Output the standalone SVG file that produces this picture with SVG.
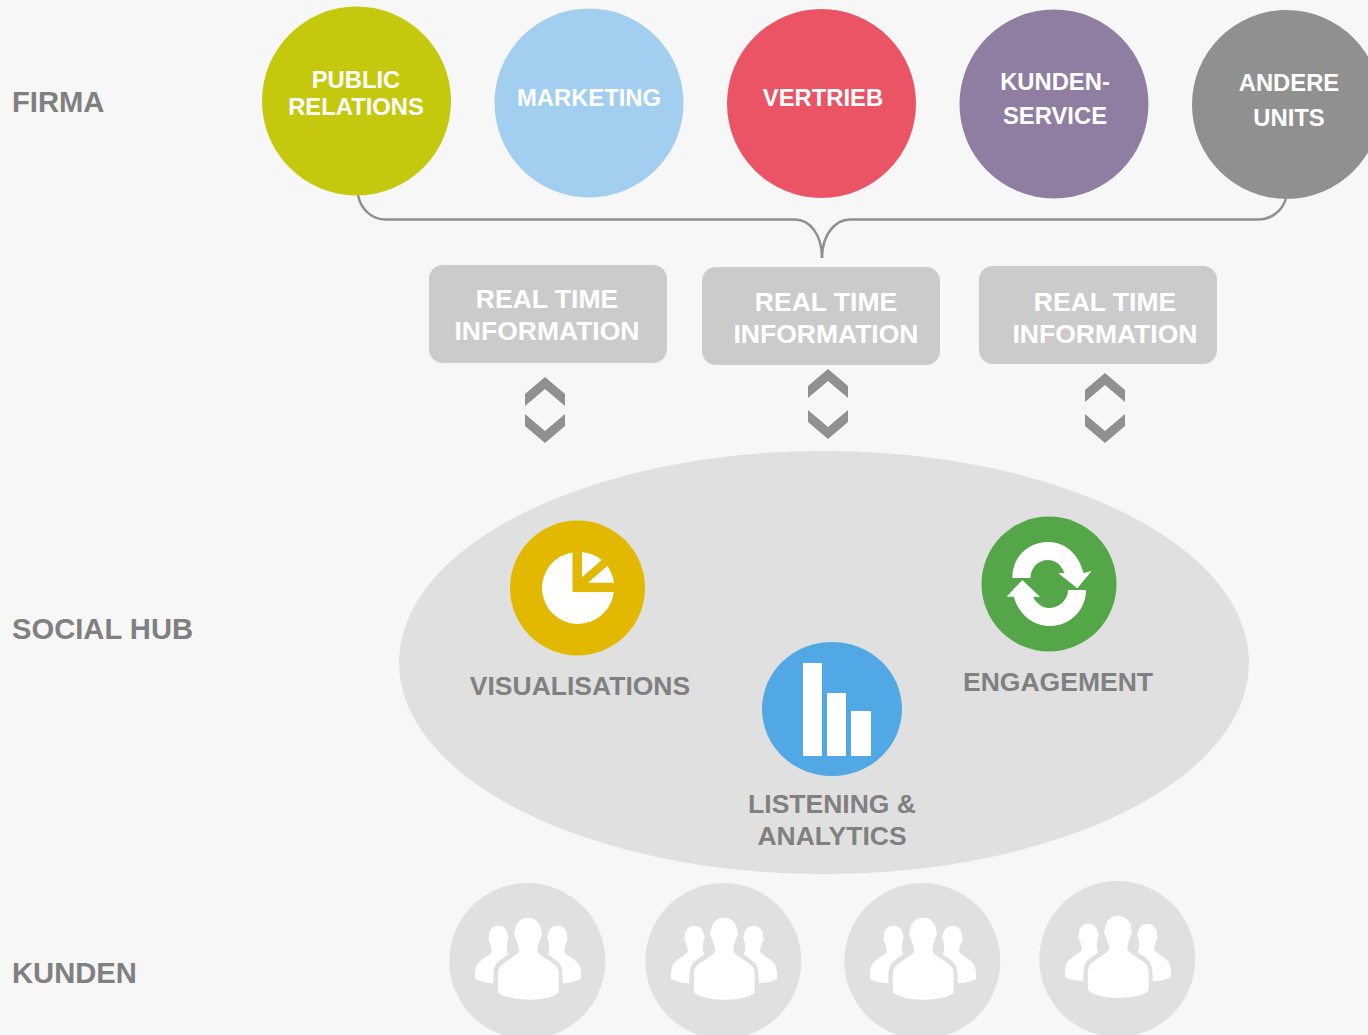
<svg xmlns="http://www.w3.org/2000/svg" xmlns:xlink="http://www.w3.org/1999/xlink" width="1368" height="1035" viewBox="0 0 1368 1035">
<style>
text{font-family:"Liberation Sans",Arial,sans-serif;font-weight:700;text-anchor:middle}
.w{fill:#fff}.g{fill:#808080}
.head{font-size:29.200px;text-anchor:start}
.c{font-size:23.800px}
.info{font-size:26.500px}
.hub{font-size:26.500px}
.box{fill:#cbcbcb}
.chev{fill:#909090}
.ic{fill:#fff}
.cust{fill:#e0e0e0}
</style>
<defs>
<g id="people">
<path id="side" d="M175 152C158 152 146 165 147 185C143 192 147 200 150 205C153 215 157 225 155 232C145 245 115 255 108 275C105 285 105 300 105 312C120 320 140 324 160 325C160 295 160 280 170 265C180 255 195 245 205 238C198 225 200 210 203 197C207 190 206 180 203 178C203 165 192 152 175 152Z"/>
<use xlink:href="#side" href="#side" transform="matrix(-1 0 0 1 528 0)"/>
<path d="M264 128C240 128 226 146 225 168C220 175 224 185 228 192C232 205 238 218 238 228C232 242 200 255 180 275C172 285 174 300 174 350C176 358 210 374 265 374C320 374 354 360 356 350C356 300 358 285 350 275C330 255 296 242 292 228C292 218 296 205 300 192C304 185 308 175 304 168C303 146 288 128 264 128Z"/>
</g>
<g id="chevs">
<polygon points="0,0 20,17 20,29 0,12 -20,29 -20,17"/>
</g>
<g id="chevd">
<polygon points="-20,0 0,17 20,0 20,12 0,29 -20,12"/>
</g>
</defs>
<rect width="1368" height="1035" fill="#f7f7f7"/>
<text class="g head" x="12" y="112">FIRMA</text>
<text class="g head" x="12" y="639">SOCIAL HUB</text>
<text class="g head" x="12" y="983">KUNDEN</text>

<g id="connectors" fill="none" stroke="#909090" stroke-width="2.5">
<path d="M358 195C361 210 372 219.500 386 219.500H795C810 219.500 822 235 822 258"/>
<path d="M1286 198C1283 210 1272 219.500 1258 219.500H850C835 219.500 822 235 822 258"/>
</g>

<g id="public-relations"><circle cx="356.500" cy="101" r="94.500" fill="#c4c90e"/><text class="w c" x="356" y="88">PUBLIC</text><text class="w c" x="356" y="115">RELATIONS</text></g>
<g id="marketing"><circle cx="589" cy="103" r="94.500" fill="#a2cff0"/><text class="w c" x="589" y="106">MARKETING</text></g>
<g id="vertrieb"><circle cx="821.500" cy="103.500" r="94.500" fill="#ea5464"/><text class="w c" x="823" y="106">VERTRIEB</text></g>
<g id="kundenservice"><circle cx="1054" cy="104" r="94.500" fill="#8f7da2"/><text class="w c" x="1055" y="90">KUNDEN-</text><text class="w c" x="1055" y="124">SERVICE</text></g>
<g id="andere-units"><circle cx="1286.500" cy="104.500" r="94.500" fill="#909090"/><text class="w c" x="1289" y="91">ANDERE</text><text class="w c" x="1289" y="126">UNITS</text></g>

<g id="info-1"><rect class="box" x="429" y="265" width="238" height="98" rx="14"/><text class="w info" x="547" y="308">REAL TIME</text><text class="w info" x="547" y="340">INFORMATION</text></g>
<g id="info-2"><rect class="box" x="702" y="267" width="238" height="98" rx="14"/><text class="w info" x="826" y="311">REAL TIME</text><text class="w info" x="826" y="343">INFORMATION</text></g>
<g id="info-3"><rect class="box" x="979" y="266" width="238" height="98" rx="14"/><text class="w info" x="1105" y="311">REAL TIME</text><text class="w info" x="1105" y="343">INFORMATION</text></g>

<g id="arrows-1" class="chev"><use href="#chevs" x="545" y="377"/><use href="#chevd" x="545" y="414"/></g>
<g id="arrows-2" class="chev"><use href="#chevs" x="828" y="369"/><use href="#chevd" x="828" y="410"/></g>
<g id="arrows-3" class="chev"><use href="#chevs" x="1105" y="373"/><use href="#chevd" x="1105" y="414"/></g>

<g id="social-hub"><ellipse cx="824" cy="662.500" rx="425" ry="211.500" fill="#e0e0e0"/></g>

<g id="visualisations">
<circle cx="577.500" cy="588" r="67.500" fill="#e2b800"/>
<path class="ic" d="M572.500 552.400V592H613.800A36 36 0 1 1 572.500 552.400Z"/>
<path class="ic" d="M582 552A36.500 36.500 0 0 1 601.700 560L582 577.300Z"/>
<path class="ic" d="M588 582.700L607.300 566A36.500 36.500 0 0 1 614 582.700Z"/>
<text class="g hub" x="580" y="695">VISUALISATIONS</text>
</g>
<g id="engagement">
<circle cx="1049" cy="584" r="67.500" fill="#54a648"/>
<path class="ic" d="M1012.300 578C1012.300 555 1030 542 1048 542C1066 542 1079 555 1083.500 573L1091.700 571L1077.300 588.300L1058.300 573.300L1064.500 573C1061 565 1056 560 1048 560C1038 560 1030.500 568 1030.500 578Z"/>
<path class="ic" d="M1086 590C1086 610 1070 626 1050 626C1032 626 1018 613 1014 596.700L1006.700 596.700L1022.300 580L1040 596.700L1033.300 597C1036 603 1042 608 1049 608C1059 608 1068 600 1068 590Z"/>
<text class="g hub" x="1058" y="691">ENGAGEMENT</text>
</g>
<g id="listening">
<ellipse cx="832" cy="709" rx="70" ry="67" fill="#52a7e5"/>
<rect class="ic" x="803" y="663" width="19" height="93"/>
<rect class="ic" x="827" y="693" width="19" height="63"/>
<rect class="ic" x="851" y="711" width="20" height="45"/>
<text class="g hub" x="832" y="813">LISTENING &amp;</text>
<text class="g hub" x="832" y="845">ANALYTICS</text>
</g>

<g id="kunde-1"><circle class="cust" cx="527.300" cy="961" r="78"/><use href="#people" fill="#fff" transform="translate(440 875) scale(.3333)"/></g>
<g id="kunde-2"><circle class="cust" cx="723.300" cy="961" r="78"/><use href="#people" fill="#fff" transform="translate(636 875) scale(.3333)"/></g>
<g id="kunde-3"><circle class="cust" cx="922.300" cy="961" r="78"/><use href="#people" fill="#fff" transform="translate(835 875) scale(.3333)"/></g>
<g id="kunde-4"><circle class="cust" cx="1117.300" cy="959" r="78"/><use href="#people" fill="#fff" transform="translate(1030 873) scale(.3333)"/></g>
</svg>
